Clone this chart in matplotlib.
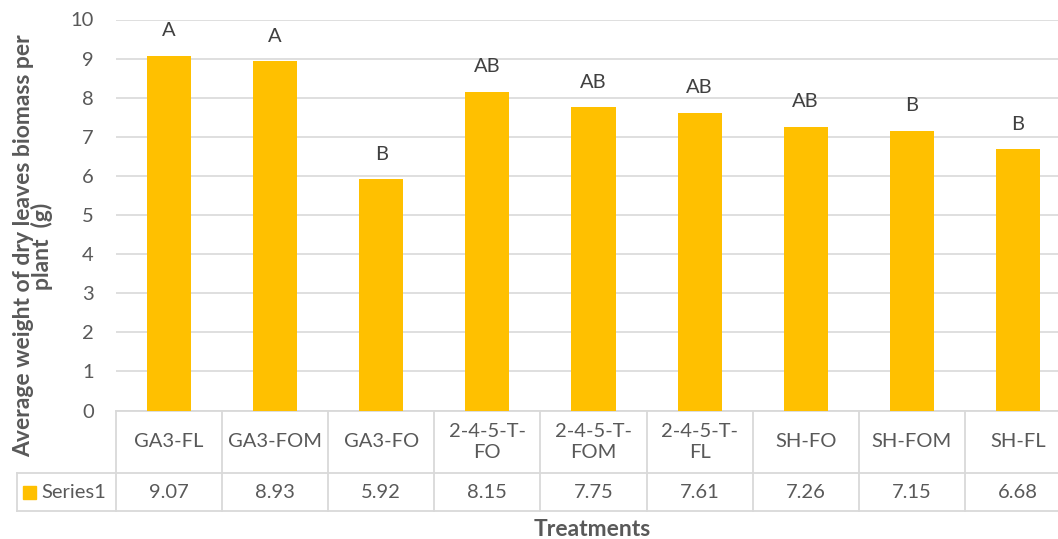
import matplotlib.pyplot as plt
import numpy as np

plt.rcParams['font.family'] = ['Lato', 'DejaVu Sans']

# Treatments, mean dry-leaf biomass per plant and group letters
treatments = ["GA3-FL", "GA3-FOM", "GA3-FO", "2-4-5-T-\nFO", "2-4-5-T-\nFOM",
              "2-4-5-T-\nFL", "SH-FO", "SH-FOM", "SH-FL"]
biomass = [9.07, 8.93, 5.92, 8.15, 7.75, 7.61, 7.26, 7.15, 6.68]
letters = ["A", "A", "B", "AB", "AB", "AB", "AB", "B", "B"]
series_name = "Series1"
y_ticks = [0, 1, 2, 3, 4, 5, 6, 7, 8, 9, 10]

BAR = "#FFC000"
TEXT = "#595959"
GRID = "#D9D9D9"
FS = 14.5

W, H = 1058, 539
fig = plt.figure(figsize=(W / 100, H / 100), dpi=100)
# plot area runs a little past the right edge of the canvas
x0, x1, ytop, ybot = 116, 1071, 19.5, 410.5
ax = fig.add_axes([x0 / W, 1 - ybot / H, (x1 - x0) / W, (ybot - ytop) / H])

n = len(treatments)
x = np.arange(n)
ax.bar(x, biomass, width=0.415, color=BAR, zorder=3)
ax.set_xlim(-0.5, n - 0.5)
ax.set_ylim(0, 10)
ax.set_yticks(y_ticks)
ax.set_yticklabels([str(t) for t in y_ticks], fontsize=FS, color=TEXT)
ax.tick_params(axis='y', length=0, pad=16)
ax.set_xticks([])
for spine in ax.spines.values():
    spine.set_visible(False)
ax.grid(axis='y', color=GRID, linewidth=1.2, zorder=0)

for xi, v, lab in zip(x, biomass, letters):
    ax.annotate(lab, (xi, v), xytext=(0, 18), textcoords='offset points',
                ha='center', va='center', fontsize=FS, color="#404040")

# data table under the plot, in axes fraction units
ph = ybot - ytop
pw = x1 - x0
row1 = -(473 - ybot) / ph
row2 = -(511 - ybot) / ph
left = -(x0 - 17) / pw
kw = dict(color=GRID, linewidth=1.3, clip_on=False, transform=ax.transAxes)
ax.plot([0, 1], [0, 0], **kw)
ax.plot([left, 1], [row1, row1], **kw)
ax.plot([left, 1], [row2, row2], **kw)
ax.plot([left, left], [row1, row2], **kw)
for i in range(n + 1):
    xf = i / n
    ax.plot([xf, xf], [0, row2], **kw)

for i, (name, v) in enumerate(zip(treatments, biomass)):
    xc = (i + 0.5) / n
    ax.text(xc, row1 / 2, name, transform=ax.transAxes, ha='center', va='center',
            fontsize=FS, color=TEXT, linespacing=1.3)
    ax.text(xc, (row1 + row2) / 2, f"{v:.2f}", transform=ax.transAxes,
            ha='center', va='center', fontsize=FS, color=TEXT)

# legend key for the series row
key_x = -(x0 - 23) / pw
key_w = 13 / pw
key_h = 13 / ph
ymid = (row1 + row2) / 2
ax.add_patch(plt.Rectangle((key_x, ymid - key_h / 2), key_w, key_h, color=BAR,
                           transform=ax.transAxes, clip_on=False))
ax.text(-(x0 - 41) / pw, ymid, series_name, transform=ax.transAxes,
        ha='left', va='center', fontsize=FS, color=TEXT)

fig.text(592 / W, 1 - 530 / H, "Treatments", ha='center', va='center',
         fontsize=16.5, fontweight='bold', color=TEXT)
fig.text(33 / W, 1 - 246 / H, "Average weight of dry leaves biomass per\nplant  (g)",
         ha='center', va='center', rotation=90, fontsize=16.5, fontweight='bold',
         color=TEXT, linespacing=0.85)

fig.savefig("out.png", dpi=100)
